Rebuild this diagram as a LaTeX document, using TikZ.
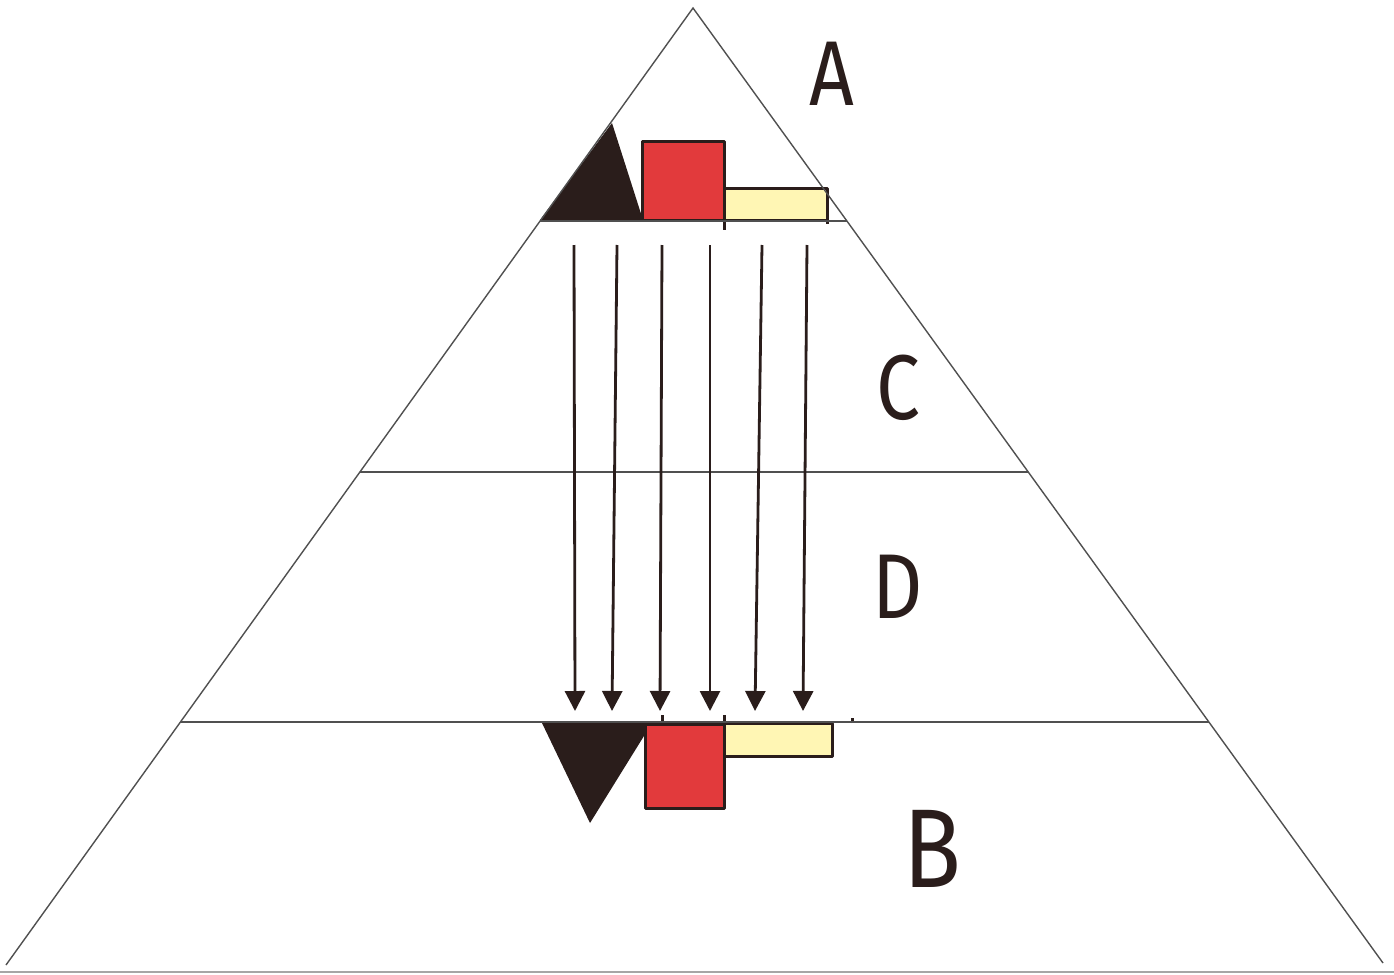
\documentclass[tikz,border=0pt]{standalone}
\usepackage{fontspec}
\newfontfamily\handfont{Fira Sans}
\usetikzlibrary{arrows.meta}
\definecolor{ink}{HTML}{2A1D1B}
\definecolor{redfill}{HTML}{E23A3C}
\definecolor{yelfill}{HTML}{FFF6B4}
\definecolor{edge}{HTML}{505050}
\tikzset{
  guide/.style={draw=edge, line width=1.4pt},
  marker/.style={draw=ink, line width=3pt, line join=round},
  flow/.style={draw=ink, line width=2.8pt, -{Triangle[width=20pt,length=20pt]}},
  letter/.style={text=ink, font=\handfont\fontsize{92}{92}\selectfont, inner sep=0pt, xscale=0.85}
}
\begin{document}
\begin{tikzpicture}[x=1pt,y=-1pt]
\useasboundingbox (0,0) rectangle (1394,974);
\fill[white] (0,0) rectangle (1394,974);
% page edge
\draw[draw=gray!70, line width=1.5pt] (0,972) -- (1394,972);
% big triangle
\coordinate (apex) at (693,8);
\coordinate (bl) at (6,965);
\coordinate (br) at (1383,963);
% top block: black triangle, red square, yellow bar
\fill[ink] (540,220) -- (612,123) -- (643,220) -- cycle;
\filldraw[fill=redfill, marker] (642,141) rectangle (724,220);
\filldraw[fill=yelfill, marker] (724,188) rectangle (827,220);
\draw[marker] (724,220) -- (724,230);
\draw[marker] (827,220) -- (827,224);
% bottom block
\fill[ink] (542,723) -- (652,723) -- (590,823) -- cycle;
\filldraw[fill=redfill, marker] (645,724) rectangle (724,808);
\filldraw[fill=yelfill, marker] (724,723) rectangle (832,756);
\draw[marker] (724,723) -- (724,715);
\draw[marker] (662,723) -- (662,715);
\draw[marker] (852,723) -- (852,718);
% triangle and bands
\draw[guide, line join=miter] (bl) -- (apex) -- (br);
\draw[guide] (540,221) -- (847,221);
\draw[guide] (360,472) -- (1028,472);
\draw[guide] (180,722) -- (1209,722);
% arrows
\foreach \i/\xs/\xe in {1/574/575, 2/617/612, 3/662/660, 4/710/710, 5/762/755, 6/807/803} {
  \coordinate (s\i) at (\xs,245);
  \coordinate (e\i) at (\xe,711);
  \draw[flow] (s\i) -- (e\i);
}
% labels
\node[letter] (A) at (832,74) {A};
\node[letter] (C) at (898,388) {C};
\node[letter] (D) at (898,587) {D};
\node[letter, font=\handfont\fontsize{112}{112}\selectfont] (B) at (932,849) {B};
\end{tikzpicture}
\end{document}
